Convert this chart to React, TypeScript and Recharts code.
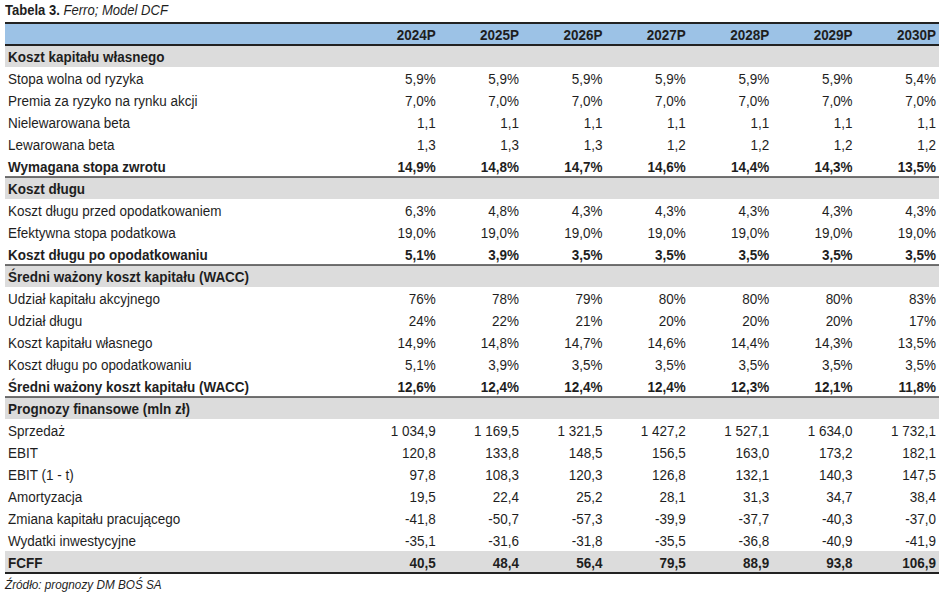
import { ReferenceArea, ReferenceLine, Scatter, ScatterChart, XAxis, YAxis } from "recharts";

const years = ["2024P", "2025P", "2026P", "2027P", "2028P", "2029P", "2030P"];

const stopaWolna = [5.9, 5.9, 5.9, 5.9, 5.9, 5.9, 5.4];
const premia = [7.0, 7.0, 7.0, 7.0, 7.0, 7.0, 7.0];
const betaNielew = [1.1, 1.1, 1.1, 1.1, 1.1, 1.1, 1.1];
const betaLew = [1.3, 1.3, 1.3, 1.2, 1.2, 1.2, 1.2];
const wymaganaStopa = [14.9, 14.8, 14.7, 14.6, 14.4, 14.3, 13.5];
const kosztDluguPrzed = [6.3, 4.8, 4.3, 4.3, 4.3, 4.3, 4.3];
const stopaPodatkowa = [19.0, 19.0, 19.0, 19.0, 19.0, 19.0, 19.0];
const kosztDluguPo = [5.1, 3.9, 3.5, 3.5, 3.5, 3.5, 3.5];
const udzialKapitalu = [76, 78, 79, 80, 80, 80, 83];
const udzialDlugu = [24, 22, 21, 20, 20, 20, 17];
const wacc = [12.6, 12.4, 12.4, 12.4, 12.3, 12.1, 11.8];
const sprzedaz = [1034.9, 1169.5, 1321.5, 1427.2, 1527.1, 1634.0, 1732.1];
const ebit = [120.8, 133.8, 148.5, 156.5, 163.0, 173.2, 182.1];
const ebitNetto = [97.8, 108.3, 120.3, 126.8, 132.1, 140.3, 147.5];
const amortyzacja = [19.5, 22.4, 25.2, 28.1, 31.3, 34.7, 38.4];
const zmianaKapitalu = [-41.8, -50.7, -57.3, -39.9, -37.7, -40.3, -37.0];
const wydatkiInw = [-35.1, -31.6, -31.8, -35.5, -36.8, -40.9, -41.9];
const fcff = [40.5, 48.4, 56.4, 79.5, 88.9, 93.8, 106.9];

type Kind = "head" | "section" | "row" | "total" | "fcff";
type Fmt = "pct1" | "pct0" | "num";
type Row = { label: string; kind: Kind; values?: number[]; fmt?: Fmt };

const rows: Row[] = [
  { label: "", kind: "head" },
  { label: "Koszt kapitału własnego", kind: "section" },
  { label: "Stopa wolna od ryzyka", kind: "row", values: stopaWolna, fmt: "pct1" },
  { label: "Premia za ryzyko na rynku akcji", kind: "row", values: premia, fmt: "pct1" },
  { label: "Nielewarowana beta", kind: "row", values: betaNielew, fmt: "num" },
  { label: "Lewarowana beta", kind: "row", values: betaLew, fmt: "num" },
  { label: "Wymagana stopa zwrotu", kind: "total", values: wymaganaStopa, fmt: "pct1" },
  { label: "Koszt długu", kind: "section" },
  { label: "Koszt długu przed opodatkowaniem", kind: "row", values: kosztDluguPrzed, fmt: "pct1" },
  { label: "Efektywna stopa podatkowa", kind: "row", values: stopaPodatkowa, fmt: "pct1" },
  { label: "Koszt długu po opodatkowaniu", kind: "total", values: kosztDluguPo, fmt: "pct1" },
  { label: "Średni ważony koszt kapitału (WACC)", kind: "section" },
  { label: "Udział kapitału akcyjnego", kind: "row", values: udzialKapitalu, fmt: "pct0" },
  { label: "Udział długu", kind: "row", values: udzialDlugu, fmt: "pct0" },
  { label: "Koszt kapitału własnego", kind: "row", values: wymaganaStopa, fmt: "pct1" },
  { label: "Koszt długu po opodatkowaniu", kind: "row", values: kosztDluguPo, fmt: "pct1" },
  { label: "Średni ważony koszt kapitału (WACC)", kind: "total", values: wacc, fmt: "pct1" },
  { label: "Prognozy finansowe (mln zł)", kind: "section" },
  { label: "Sprzedaż", kind: "row", values: sprzedaz, fmt: "num" },
  { label: "EBIT", kind: "row", values: ebit, fmt: "num" },
  { label: "EBIT (1 - t)", kind: "row", values: ebitNetto, fmt: "num" },
  { label: "Amortyzacja", kind: "row", values: amortyzacja, fmt: "num" },
  { label: "Zmiana kapitału pracującego", kind: "row", values: zmianaKapitalu, fmt: "num" },
  { label: "Wydatki inwestycyjne", kind: "row", values: wydatkiInw, fmt: "num" },
  { label: "FCFF", kind: "fcff", values: fcff, fmt: "num" },
];

const LABEL_COL = -4.2;
const FONT = "'Liberation Sans', Arial, sans-serif";
const SQUEEZE = 0.87; // fake the condensed Helvetica of the original
const INK = "#1e1e1e";

function fmtValue(v: number, fmt?: Fmt) {
  if (fmt === "pct0") return `${v.toFixed(0)}%`;
  const [int, dec] = Math.abs(v).toFixed(1).split(".");
  const grouped = int.replace(/\B(?=(\d{3})+(?!\d))/g, " ");
  const s = `${v < 0 ? "-" : ""}${grouped},${dec}`;
  return fmt === "pct1" ? `${s}%` : s;
}

const isBold = (k: Kind) => k !== "row";

// one set of points per column: col index on X, row index on Y
const labelPoints = rows.map((r, i) => ({ col: LABEL_COL, row: i, text: r.label, bold: isBold(r.kind) }));
const columnPoints = years.map((y, c) =>
  rows.map((r, i) => ({
    col: c + 1,
    row: i,
    text: r.kind === "head" ? y : r.values ? fmtValue(r.values[c], r.fmt) : "",
    bold: isBold(r.kind),
  }))
);

const CellText = (props: any) => {
  const { cx, cy, payload, anchor } = props;
  if (!payload.text) return <g />;
  const x = anchor === "start" ? cx + 3 : cx - 3;
  return (
    <text
      transform={`translate(${x},${cy}) scale(${SQUEEZE},1)`}
      dy="0.36em"
      textAnchor={anchor}
      fontFamily={FONT}
      fontSize={15.5}
      fontWeight={payload.bold ? 700 : 400}
      fill={INK}
    >
      {payload.text}
    </text>
  );
};

const bandRows = rows.map((r, i) => ({ r, i })).filter(({ r }) => r.kind === "section" || r.kind === "fcff");
const ruleRows = rows.map((r, i) => ({ r, i })).filter(({ r }) => r.kind === "total");

const squeezed = {
  display: "inline-block",
  transform: `scaleX(${SQUEEZE})`,
  transformOrigin: "left center",
  whiteSpace: "nowrap" as const,
};

export default function App() {
  return (
    <div style={{ position: "absolute", left: 0, top: 0, width: 944, height: 601, background: "#fff" }}>
      <div style={{ position: "absolute", left: 5, top: 1, fontFamily: FONT, fontSize: 15, color: INK, lineHeight: "18px" }}>
        <span style={squeezed}>
          <b>Tabela 3.</b> <i>Ferro; Model DCF</i>
        </span>
      </div>
      <ScatterChart width={944} height={601} margin={{ top: 23, right: 5, bottom: 28, left: 5 }}>
        <XAxis type="number" dataKey="col" domain={[LABEL_COL, 7]} hide />
        <YAxis type="number" dataKey="row" domain={[-0.5, rows.length - 0.5]} reversed hide />
        <ReferenceArea y1={-0.5} y2={0.5} fill="#9cc2e6" fillOpacity={1} stroke="none" />
        {bandRows.map(({ i }) => (
          <ReferenceArea key={`b${i}`} y1={i - 0.5} y2={i + 0.5} fill="#dcdcdc" fillOpacity={1} stroke="none" />
        ))}
        <ReferenceLine y={-0.5} stroke="#222" strokeWidth={2} />
        <ReferenceLine y={0.5} stroke="#222" strokeWidth={2} />
        {ruleRows.map(({ i }) => (
          <ReferenceLine key={`l${i}`} y={i + 0.5} stroke="#444" strokeWidth={1.3} />
        ))}
        <ReferenceLine y={rows.length - 0.5} stroke="#222" strokeWidth={2} />
        <Scatter
          data={labelPoints}
          isAnimationActive={false}
          shape={(p: any) => <CellText {...p} anchor="start" />}
        />
        {columnPoints.map((pts, c) => (
          <Scatter
            key={years[c]}
            data={pts}
            isAnimationActive={false}
            shape={(p: any) => <CellText {...p} anchor="end" />}
          />
        ))}
      </ScatterChart>
      <div style={{ position: "absolute", left: 5, top: 577, fontFamily: FONT, fontSize: 13.5, fontStyle: "italic", color: INK, lineHeight: "16px" }}>
        <span style={squeezed}>Źródło: prognozy DM BOŚ SA</span>
      </div>
    </div>
  );
}
